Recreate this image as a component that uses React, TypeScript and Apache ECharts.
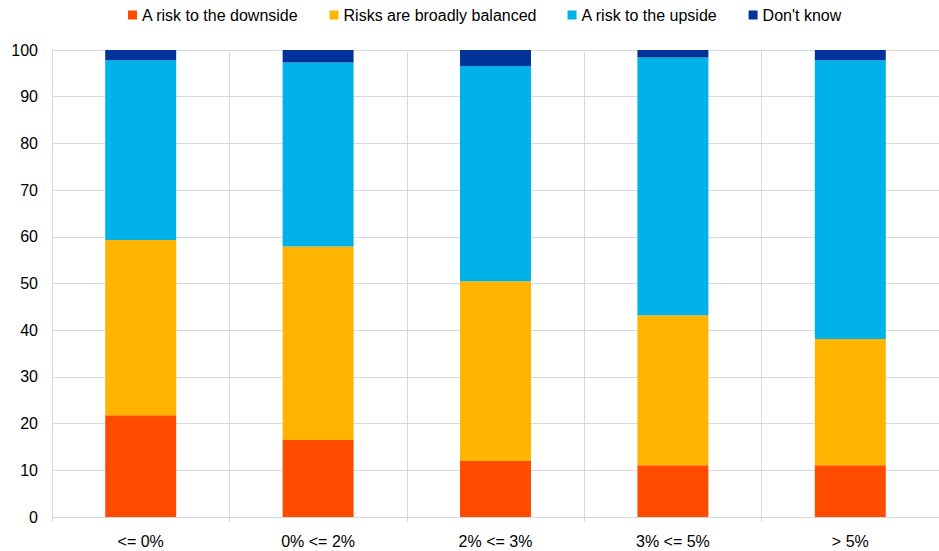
import React, { useEffect, useRef } from "react";
import * as echarts from "echarts";

const categories = ["<= 0%", "0% <= 2%", "2% <= 3%", "3% <= 5%", "> 5%"];
const downside = [21.8, 16.5, 12.0, 11.1, 11.1];
const balanced = [37.5, 41.4, 38.5, 32.1, 27.0];
const upside = [38.5, 39.4, 46.1, 55.2, 59.7];
const dontKnow = [2.2, 2.7, 3.4, 1.6, 2.2];
const seriesNames = ["A risk to the downside", "Risks are broadly balanced", "A risk to the upside", "Don't know"];
const colors = ["#FF4B00", "#FFB400", "#00B1EA", "#003299"];

const FONT = "'Liberation Sans', Arial, sans-serif";

export default function App() {
  const ref = useRef<HTMLDivElement>(null);
  useEffect(() => {
    document.body.style.margin = "0";
    const chart = echarts.init(ref.current!, undefined, { renderer: "svg" });
    const data = [downside, balanced, upside, dontKnow];
    chart.setOption({
      animation: false,
      textStyle: { fontFamily: FONT },
      legend: {
        top: 2,
        left: 123,
        itemWidth: 9,
        itemHeight: 9,
        itemGap: 31,
        icon: "rect",
        textStyle: { fontFamily: FONT, fontSize: 16, color: "#000" },
        data: seriesNames,
      },
      grid: { left: 52, right: 0, top: 50, bottom: 34, containLabel: false },
      xAxis: {
        type: "category",
        data: categories,
        axisLine: { lineStyle: { color: "#D9D9D9", width: 1 } },
        axisTick: { show: true, length: 5, lineStyle: { color: "#D9D9D9" } },
        splitLine: { show: true, lineStyle: { color: "#D9D9D9", width: 1 } },
        axisLabel: { fontFamily: FONT, fontSize: 16, color: "#000", margin: 16 },
      },
      yAxis: {
        type: "value",
        min: 0,
        max: 100,
        interval: 10,
        axisLine: { show: false },
        axisTick: { show: false },
        splitLine: { lineStyle: { color: "#D9D9D9", width: 1 } },
        axisLabel: { fontFamily: FONT, fontSize: 16, color: "#000", margin: 14 },
      },
      series: seriesNames.map((name, i) => ({
        name,
        type: "bar",
        stack: "total",
        barWidth: "40%",
        data: data[i],
        itemStyle: { color: colors[i] },
      })),
    });
    return () => chart.dispose();
  }, []);
  return <div ref={ref} style={{ position: "absolute", left: 0, top: 0, width: 939, height: 551 }} />;
}
